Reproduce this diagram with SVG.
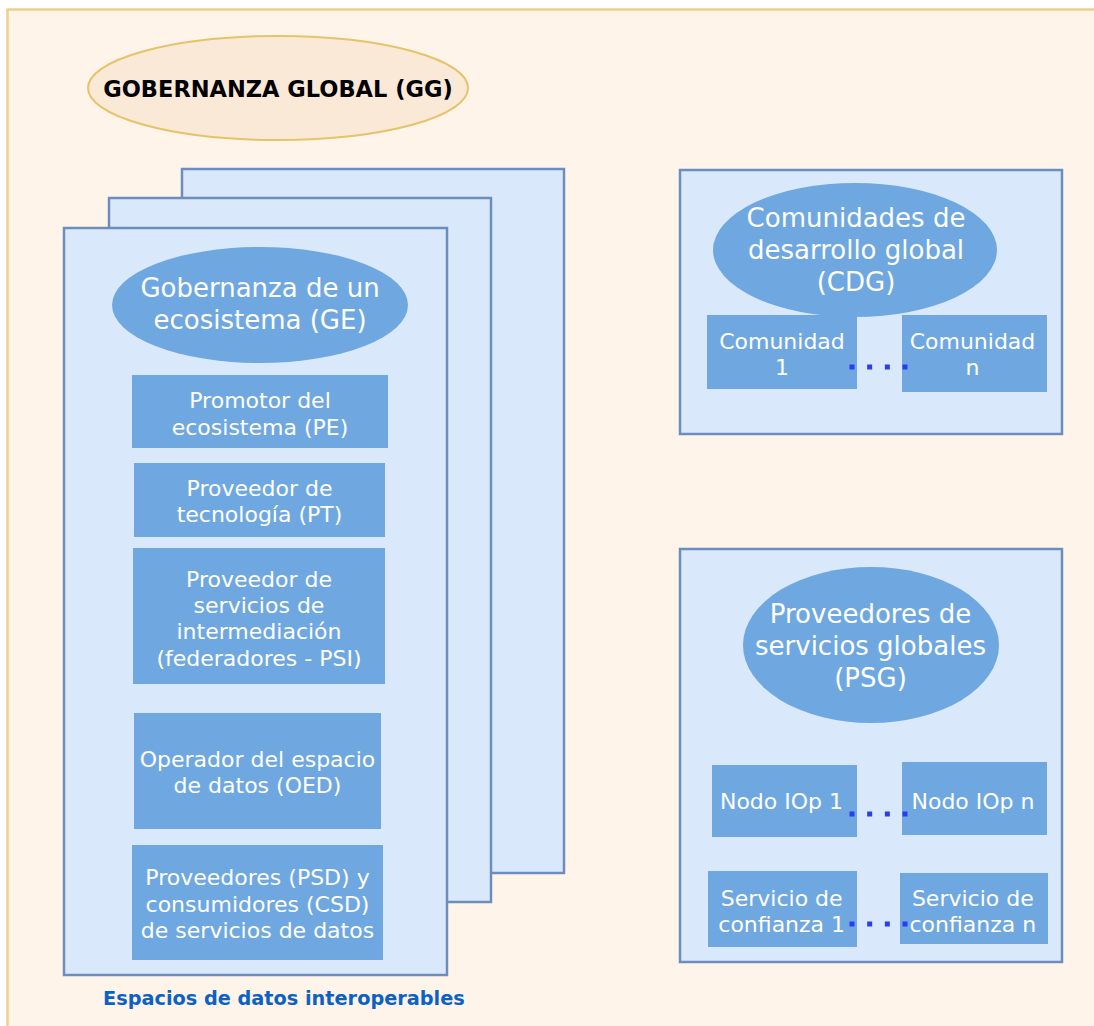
<svg xmlns="http://www.w3.org/2000/svg" width="1094" height="1026" viewBox="0 0 1094 1026">
<style>
.page{fill:#dae8fc;stroke:#6c8ebf;stroke-width:2.5}
.blob{fill:#6fa8e0;stroke:none}
.wt{font-family:"DejaVu Sans",Verdana,sans-serif;fill:#ffffff;text-anchor:middle}
.big{font-size:26px}
.sm{font-size:22px}
.dots{stroke:#2b3df2;stroke-width:5;stroke-dasharray:5 12.67;fill:none}
</style>
<rect x="0" y="0" width="1094" height="1026" fill="#ffffff"/>
<rect x="7" y="9" width="1090" height="1020" fill="#fef4e9"/>
<path d="M7 9.5 H1094 M7.5 9 V1026" stroke="#ecd08e" stroke-width="2.5" fill="none"/>

<g id="gg">
<ellipse cx="278" cy="88" rx="190" ry="52" fill="#fbe9d7" stroke="#e6c36a" stroke-width="2"/>
<text x="278" y="97" text-anchor="middle" font-family="'DejaVu Sans',Verdana,sans-serif" font-weight="bold" font-size="22.5" fill="#000">GOBERNANZA GLOBAL (GG)</text>
</g>

<g id="espacios">
<rect class="page" x="182" y="169" width="382" height="704"/>
<rect class="page" x="109" y="198" width="382" height="704"/>
<rect class="page" x="64" y="228" width="383" height="747"/>
<text x="103" y="1005" font-family="'DejaVu Sans',Verdana,sans-serif" font-weight="bold" font-size="19.3" fill="#0b62c4">Espacios de datos interoperables</text>
</g>

<g id="ge">
<ellipse class="blob" cx="260" cy="305" rx="148" ry="58"/>
<text class="wt big"><tspan x="260" y="297">Gobernanza de un</tspan><tspan x="260" y="329">ecosistema (GE)</tspan></text>
</g>

<g id="pe">
<rect class="blob" x="132" y="375" width="256" height="73"/>
<text class="wt sm"><tspan x="260" y="408">Promotor del</tspan><tspan x="260" y="435">ecosistema (PE)</tspan></text>
</g>

<g id="pt">
<rect class="blob" x="134" y="463" width="251" height="74"/>
<text class="wt sm"><tspan x="259.5" y="496">Proveedor de</tspan><tspan x="259.5" y="522">tecnología (PT)</tspan></text>
</g>

<g id="psi">
<rect class="blob" x="133" y="548" width="252" height="136"/>
<text class="wt sm"><tspan x="259" y="587">Proveedor de</tspan><tspan x="259" y="613">servicios de</tspan><tspan x="259" y="639">intermediación</tspan><tspan x="259" y="666">(federadores - PSI)</tspan></text>
</g>

<g id="oed">
<rect class="blob" x="134" y="713" width="247" height="116"/>
<text class="wt sm"><tspan x="257.5" y="767">Operador del espacio</tspan><tspan x="257.5" y="793">de datos (OED)</tspan></text>
</g>

<g id="psd">
<rect class="blob" x="132" y="845" width="251" height="115"/>
<text class="wt sm"><tspan x="257.5" y="885">Proveedores (PSD) y</tspan><tspan x="257.5" y="912">consumidores (CSD)</tspan><tspan x="257.5" y="938">de servicios de datos</tspan></text>
</g>

<g id="cdg">
<rect class="page" x="680" y="170" width="382" height="264"/>
<ellipse class="blob" cx="855" cy="250" rx="142" ry="67"/>
<text class="wt big"><tspan x="856" y="227">Comunidades de</tspan><tspan x="856" y="259">desarrollo global</tspan><tspan x="856" y="291">(CDG)</tspan></text>
</g>

<g id="comunidad1">
<rect class="blob" x="707" y="315" width="150" height="74"/>
<text class="wt sm"><tspan x="782" y="349">Comunidad</tspan><tspan x="782" y="375">1</tspan></text>
</g>

<g id="comunidadn">
<rect class="blob" x="902" y="315" width="145" height="77"/>
<text class="wt sm"><tspan x="972.5" y="349">Comunidad</tspan><tspan x="972.5" y="375">n</tspan></text>
</g>

<g id="psg">
<rect class="page" x="680" y="549" width="382" height="413"/>
<ellipse class="blob" cx="871" cy="645" rx="128" ry="78"/>
<text class="wt big"><tspan x="870.5" y="623">Proveedores de</tspan><tspan x="870.5" y="655">servicios globales</tspan><tspan x="870.5" y="687">(PSG)</tspan></text>
</g>

<g id="nodo1">
<rect class="blob" x="712" y="765" width="145" height="72"/>
<text class="wt sm" x="781.5" y="809">Nodo IOp 1</text>
</g>

<g id="nodon">
<rect class="blob" x="902" y="762" width="145" height="73"/>
<text class="wt sm" x="973" y="809">Nodo IOp n</text>
</g>

<g id="confianza1">
<rect class="blob" x="708" y="871" width="149" height="76"/>
<text class="wt sm"><tspan x="781.7" y="906">Servicio de</tspan><tspan x="781.7" y="932">confianza 1</tspan></text>
</g>

<g id="confianzan">
<rect class="blob" x="900" y="873" width="148" height="71"/>
<text class="wt sm"><tspan x="972.8" y="906">Servicio de</tspan><tspan x="972.8" y="932">confianza n</tspan></text>
</g>

<g id="connectors">
<path class="dots" d="M849.5 367 H910"/>
<path class="dots" d="M849.5 814 H910"/>
<path class="dots" d="M849.5 924 H910"/>
</g>
</svg>
